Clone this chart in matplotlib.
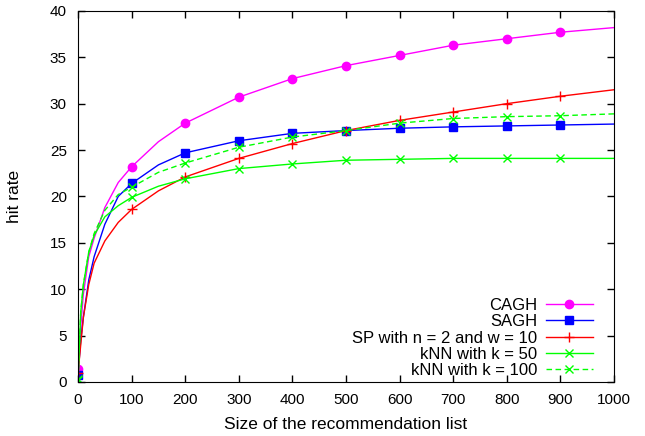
import matplotlib
matplotlib.use('Agg')
import matplotlib.pyplot as plt

plt.rcParams['font.family'] = ['Liberation Sans', 'DejaVu Sans']
plt.rcParams['font.size'] = 11

# list sizes (marks are drawn every 100)
x = [0, 5, 10, 20, 30, 50, 75, 100, 150, 200, 300, 400, 500, 600, 700, 800, 900, 1000]

cagh = [1.4, 6.0, 9.5, 13.5, 15.5, 18.8, 21.5, 23.2, 25.9, 27.9, 30.7, 32.7, 34.1, 35.2, 36.3, 37.0, 37.7, 38.2]
sagh = [0.8, 4.5, 7.0, 11.0, 13.5, 17.0, 20.0, 21.4, 23.4, 24.7, 26.0, 26.8, 27.1, 27.35, 27.5, 27.6, 27.7, 27.8]
sp = [1.0, 4.0, 7.0, 10.5, 12.8, 15.2, 17.2, 18.6, 20.6, 22.1, 24.1, 25.7, 27.1, 28.2, 29.1, 30.0, 30.8, 31.5]
knn50 = [0.2, 7.5, 10.5, 14.0, 15.8, 17.8, 19.0, 19.9, 21.1, 21.9, 23.0, 23.5, 23.9, 24.0, 24.1, 24.1, 24.1, 24.1]
knn100 = [0.3, 7.5, 10.5, 14.0, 16.0, 18.5, 20.2, 21.0, 22.6, 23.6, 25.3, 26.4, 27.1, 27.9, 28.4, 28.6, 28.7, 28.9]

marks = [0, 7, 9, 10, 11, 12, 13, 14, 15, 16]

fig = plt.figure(figsize=(6.45, 4.36), dpi=100)
ax = fig.add_axes([0.121, 0.124, 0.831, 0.851])

ax.plot(x, cagh, color='#ff00ff', lw=1, marker='o', ms=6, markevery=marks, label='CAGH')
ax.plot(x, sagh, color='#0000ff', lw=1, marker='s', ms=6, markevery=marks, label='SAGH')
ax.plot(x, sp, color='#ff0000', lw=1, marker='+', ms=7, mew=1, markevery=marks,
        label='SP with n = 2 and w = 10')
ax.plot(x, knn50, color='#00ff00', lw=1, marker='x', ms=6, mew=1, markevery=marks,
        label='kNN with k = 50')
ax.plot(x, knn100, color='#00ff00', lw=1, ls=(0, (4, 2.5)), marker='x', ms=6, mew=1,
        markevery=marks, label='kNN with k = 100')

ax.set_xlim(0, 1000)
ax.set_ylim(0, 40)
ax.set_xticks(range(0, 1001, 100))
ax.set_yticks(range(0, 41, 5))
ax.tick_params(direction='in', top=True, right=True, length=5, width=1, pad=8)
ax.set_xlabel('Size of the recommendation list', fontsize=12.5, labelpad=7)
ax.set_ylabel('hit rate', fontsize=12.5, labelpad=20)

ax.legend(loc='lower right', bbox_to_anchor=(0.96, 0.01), frameon=False,
          markerfirst=False, handlelength=2.8, handletextpad=0.5,
          labelspacing=0.08, borderpad=0, borderaxespad=0, fontsize=12)

fig.savefig('out.png', dpi=100)
